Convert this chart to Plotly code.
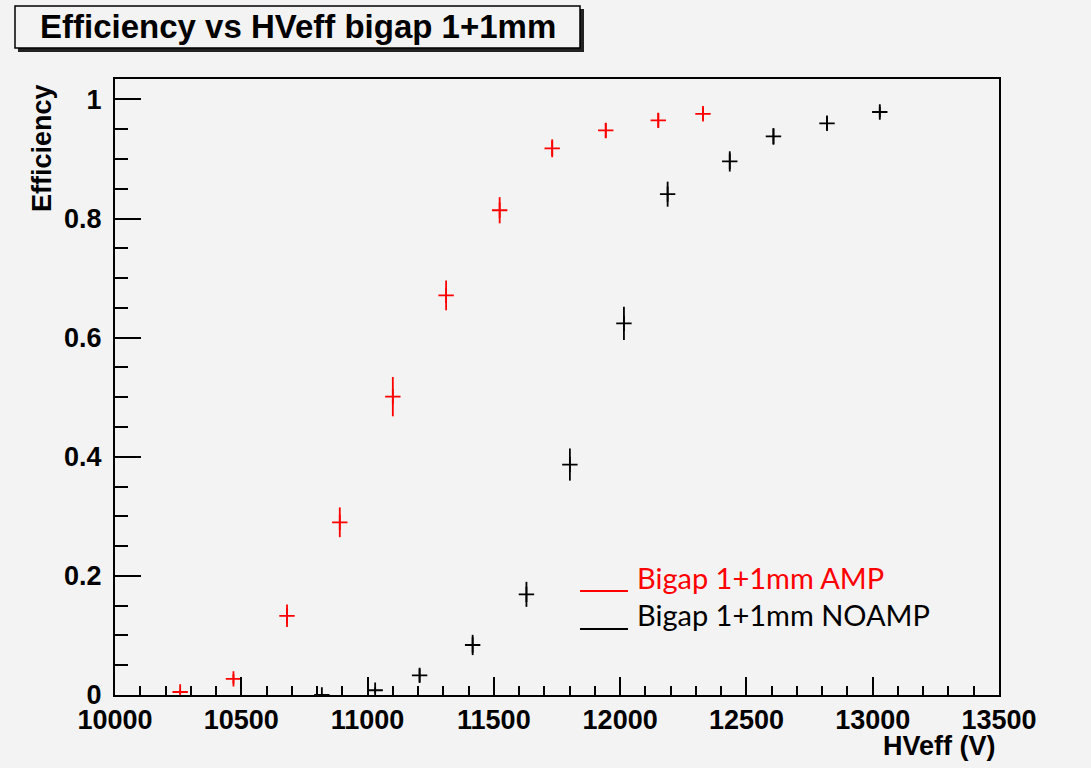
import plotly.graph_objects as go

# AMP series (red)
hv_amp = [10258, 10469, 10681, 10890, 11100, 11311, 11523, 11731, 11943, 12151, 12328]
eff_amp = [0.005, 0.027, 0.133, 0.290, 0.501, 0.671, 0.814, 0.918, 0.948, 0.965, 0.976]
err_amp = [0.004, 0.008, 0.019, 0.025, 0.033, 0.025, 0.022, 0.015, 0.0125, 0.012, 0.010]

# NOAMP series (black)
hv_noamp = [10819, 11030, 11206, 11416, 11629, 11801, 12015, 12188, 12434, 12607, 12819, 13028]
eff_noamp = [0.0, 0.008, 0.033, 0.084, 0.169, 0.387, 0.624, 0.841, 0.896, 0.938, 0.960, 0.979]
err_noamp = [0.002, 0.005, 0.011, 0.017, 0.021, 0.027, 0.028, 0.021, 0.017, 0.014, 0.011, 0.009]

title_text = "Efficiency vs HVeff bigap 1+1mm"
x_title = "HVeff (V)"
y_title = "Efficiency"
legend_labels = ["Bigap 1+1mm AMP", "Bigap 1+1mm NOAMP"]
colors = ["#ff0000", "#000000"]

W, H = 1091, 768
L, R, T, B = 115, 92, 79, 73
PW, PH = W - L - R, H - T - B


def px(x):
    return (x - L) / PW


def py(y):
    return (H - B - y) / PH


fig = go.Figure()
for hv, eff, err, c in [(hv_amp, eff_amp, err_amp, colors[0]),
                        (hv_noamp, eff_noamp, err_noamp, colors[1])]:
    fig.add_trace(go.Scatter(
        x=hv, y=eff, mode="markers",
        marker=dict(symbol="cross-thin", size=11, color=c,
                    line=dict(width=1.8, color=c)),
        error_y=dict(type="data", array=err, visible=True, color=c,
                     thickness=1.8, width=0),
        showlegend=False, cliponaxis=True,
    ))

bold = dict(family="Liberation Sans, Arial, sans-serif", size=27, color="black", weight="bold")

fig.update_layout(
    width=W, height=H,
    margin=dict(l=L, r=R, t=T, b=B, pad=0),
    paper_bgcolor="#f3f3f3", plot_bgcolor="#f3f3f3",
    xaxis=dict(range=[10000, 13500], dtick=500, tick0=10000, tickformat="d",
               showgrid=False, zeroline=False, showline=True, linecolor="black",
               linewidth=2, mirror=True, ticks="inside", ticklen=18, tickwidth=2,
               tickcolor="black", tickfont=bold,
               minor=dict(dtick=100, ticks="inside", ticklen=9, tickwidth=2,
                          tickcolor="black", showgrid=False)),
    yaxis=dict(range=[0, 1.0344], dtick=0.2, tick0=0,
               showgrid=False, zeroline=False, showline=True, linecolor="black",
               linewidth=2, mirror=True, ticks="inside", ticklen=26, tickwidth=2,
               tickcolor="black", tickfont=bold, ticklabelstandoff=6,
               minor=dict(dtick=0.05, ticks="inside", ticklen=13, tickwidth=2,
                          tickcolor="black", showgrid=False)),
)

# Title box with shadow
fig.add_shape(type="rect", xref="paper", yref="paper",
              x0=px(18), x1=px(584), y0=py(52), y1=py(9),
              fillcolor="#222222", line=dict(width=0), layer="above")
fig.add_shape(type="rect", xref="paper", yref="paper",
              x0=px(15), x1=px(580), y0=py(48), y1=py(6),
              fillcolor="#f3f3f3", line=dict(width=1.5, color="black"), layer="above")
fig.add_annotation(xref="paper", yref="paper", x=px(297.5), y=py(27),
                   text=title_text, showarrow=False, xanchor="center", yanchor="middle",
                   font=dict(family="Liberation Sans, Arial, sans-serif", size=33,
                             color="black", weight="bold"))

# Axis titles
fig.add_annotation(xref="paper", yref="paper", x=px(42), y=py(148),
                   text=y_title, showarrow=False, textangle=-90,
                   xanchor="center", yanchor="middle", font=bold)
fig.add_annotation(xref="paper", yref="paper", x=px(998), y=py(746),
                   text=x_title, showarrow=False,
                   xanchor="right", yanchor="middle", font=bold)

# Legend: underline marks + text
for i, (lab, c) in enumerate(zip(legend_labels, colors)):
    yl = 591 + 38 * i
    fig.add_shape(type="line", xref="paper", yref="paper",
                  x0=px(580), x1=px(628), y0=py(yl), y1=py(yl),
                  line=dict(color=c, width=2))
    fig.add_annotation(xref="paper", yref="paper", x=px(635), y=py(577 + 37 * i),
                       text=lab, showarrow=False, xanchor="left", yanchor="middle",
                       font=dict(family="Lato, Open Sans, sans-serif", size=29, color=c))

fig.write_html("out.html")
